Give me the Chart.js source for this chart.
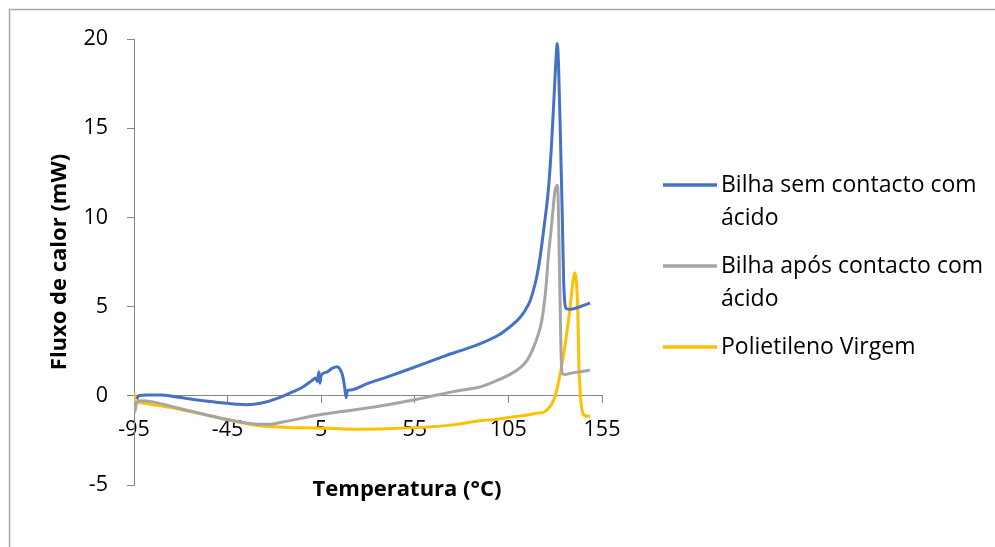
<!DOCTYPE html>
<html>
<head>
<meta charset="utf-8">
<script src="https://cdn.jsdelivr.net/npm/chart.js@4.4.0/dist/chart.umd.min.js"></script>
<style>
    body { margin: 0; background: #fff; }
    #wrap { width: 995px; height: 547px; }
</style>
</head>
<body>
<div id="wrap"><canvas id="dscChart" width="995" height="547"></canvas></div>
<script>
// Temperature ticks and series (°C, mW)
const xTicks = [-95, -45, 5, 55, 105, 155];

const semAcidoTemp = [-93.6, -92.5, -88, -80, -70, -60, -50, -40, -35, -30, -25, -20, -15, -10, -5, 0, 2, 3, 3.8, 4.3, 5, 8, 11, 13.5, 15, 16.5, 17.5, 18.3, 19, 20.5, 30, 40, 50, 60, 70, 80, 90, 100, 105, 108.5, 111.2, 114, 116.5, 118.3, 120.2, 121.9, 124.2, 126.3, 128, 129.5, 130.5, 131.1, 131.8, 132.8, 133.8, 134.5, 135.2, 136.1, 138, 142, 146, 148.6];
const semAcidoFlux = [-0.2, 0.0, 0.05, 0.04, -0.1, -0.25, -0.37, -0.47, -0.5, -0.46, -0.36, -0.2, 0.0, 0.23, 0.48, 0.85, 1.0, 0.8, 1.35, 0.7, 1.15, 1.33, 1.55, 1.63, 1.5, 1.1, 0.5, -0.1, 0.3, 0.33, 0.7, 1.05, 1.42, 1.8, 2.2, 2.55, 2.92, 3.42, 3.8, 4.1, 4.39, 4.8, 5.3, 5.9, 6.7, 7.75, 9.6, 11.5, 14.0, 17.0, 19.0, 19.75, 18.5, 14.5, 10.0, 6.5, 5.15, 4.87, 4.85, 4.95, 5.1, 5.2];

const aposAcidoTemp = [-95, -94.6, -94.2, -93.5, -92, -85, -75, -65, -55, -45, -35, -28, -22, -18, -13, -5, 5, 15, 25, 35, 45, 55, 65, 75, 85, 90, 98, 105.9, 111, 114.8, 118, 121, 122.8, 124.9, 126.3, 128.1, 129.9, 130.7, 131.1, 131.6, 132.3, 133.1, 133.6, 135.2, 140, 145, 148.6];
const aposAcidoFlux = [-0.3, -0.9, -0.7, -0.35, -0.28, -0.34, -0.6, -0.85, -1.1, -1.33, -1.52, -1.6, -1.6, -1.52, -1.42, -1.25, -1.05, -0.9, -0.76, -0.6, -0.42, -0.22, 0.0, 0.22, 0.4, 0.5, 0.82, 1.2, 1.55, 1.96, 2.6, 3.46, 4.2, 5.9, 7.75, 9.6, 11.5, 11.75, 11.8, 11.0, 7.0, 2.5, 1.25, 1.2, 1.3, 1.38, 1.44];

const virgemTemp = [-95, -94.6, -93.6, -85, -75.8, -67, -58, -49, -40.2, -33, -27.7, -20, -13.5, 4.3, 22.1, 40, 57.8, 75.6, 89.8, 100, 107.6, 115, 120, 123.6, 126.5, 129, 130.8, 132.6, 134.5, 136.1, 137.3, 138.3, 139.6, 140.6, 141.4, 142.1, 142.7, 143.4, 144.1, 145.9, 148.6];
const virgemFlux = [0.15, -0.4, -0.37, -0.5, -0.65, -0.84, -1.03, -1.25, -1.46, -1.6, -1.68, -1.74, -1.77, -1.81, -1.87, -1.85, -1.77, -1.63, -1.4, -1.3, -1.18, -1.08, -0.98, -0.93, -0.7, -0.28, 0.3, 1.2, 2.3, 3.46, 4.4, 5.3, 6.5, 6.9, 6.3, 4.6, 1.6, 0.2, -0.65, -1.12, -1.15];

const seriesNames = ['Bilha sem contacto com ácido', 'Bilha após contacto com ácido', 'Polietileno Virgem'];
const seriesColors = ['#4472C4', '#A5A5A5', '#FFC000'];

const FONT = '"Open Sans", Lato, sans-serif';
const axisColor = '#868686';

function toPoints(xs, ys) {
    return xs.map((x, i) => ({ x: x, y: ys[i] }));
}

// Border round the whole chart, x title, and a wrapped legend on the right
const extrasPlugin = {
    id: 'extras',
    beforeDraw(chart) {
        const ctx = chart.ctx;
        ctx.save();
        ctx.fillStyle = '#fff';
        ctx.fillRect(0, 0, chart.width, chart.height);
        ctx.strokeStyle = '#a6a6a6';
        ctx.lineWidth = 1.5;
        ctx.strokeRect(9.5, 9.5, chart.width + 20, chart.height + 20);
        ctx.restore();
    },
    afterDraw(chart) {
        const ctx = chart.ctx;
        ctx.save();
        ctx.fillStyle = '#000';
        ctx.font = 'bold 22px ' + FONT;
        ctx.textAlign = 'center';
        ctx.textBaseline = 'middle';
        ctx.fillText('Temperatura (°C)', 407, 490);

        ctx.font = '23px ' + FONT;
        ctx.textAlign = 'left';
        let y = 185;
        chart.data.datasets.forEach(ds => {
            const words = ds.label.split(' ');
            const lines = [];
            let cur = '';
            words.forEach(w => {
                const test = cur ? cur + ' ' + w : w;
                if (ctx.measureText(test).width > 285 && cur) {
                    lines.push(cur);
                    cur = w;
                } else {
                    cur = test;
                }
            });
            lines.push(cur);

            ctx.strokeStyle = ds.borderColor;
            ctx.lineWidth = 3.5;
            ctx.beginPath();
            ctx.moveTo(663, y);
            ctx.lineTo(717, y);
            ctx.stroke();

            lines.forEach((line, i) => {
                ctx.fillText(line, 721, y + i * 33);
            });
            y += lines.length * 33 + 15;
        });
        ctx.restore();
    }
};

const datasets = [
    toPoints(semAcidoTemp, semAcidoFlux),
    toPoints(aposAcidoTemp, aposAcidoFlux),
    toPoints(virgemTemp, virgemFlux)
].map((pts, i) => ({
    label: seriesNames[i],
    data: pts,
    borderColor: seriesColors[i],
    backgroundColor: seriesColors[i],
    borderWidth: 3,
    showLine: true,
    pointRadius: 0,
    cubicInterpolationMode: 'monotone',
    fill: false
}));

new Chart(document.getElementById('dscChart').getContext('2d'), {
    type: 'scatter',
    data: { datasets: datasets },
    plugins: [extrasPlugin],
    options: {
        responsive: false,
        animation: false,
        layout: {
            padding: { left: 43, right: 393, top: 39, bottom: 62 }
        },
        plugins: {
            legend: { display: false },
            tooltip: { enabled: false }
        },
        scales: {
            x: {
                type: 'linear',
                position: { y: 0 },
                min: -95,
                max: 155,
                afterBuildTicks: function(scale) {
                    scale.ticks = xTicks.map(v => ({ value: v }));
                },
                grid: {
                    drawOnChartArea: false,
                    drawTicks: true,
                    tickLength: 7,
                    color: axisColor
                },
                border: { display: true, color: axisColor, width: 1 },
                ticks: {
                    color: '#000',
                    font: { family: FONT, size: 21.5 },
                    padding: 14,
                    maxRotation: 0,
                    autoSkip: false
                }
            },
            y: {
                min: -5,
                max: 20,
                afterFit: function(scale) {
                    scale.width = 91;
                },
                grid: {
                    drawOnChartArea: false,
                    drawTicks: true,
                    tickLength: 7,
                    color: axisColor
                },
                border: { display: true, color: axisColor, width: 1 },
                ticks: {
                    stepSize: 5,
                    color: '#000',
                    font: { family: FONT, size: 21.5 },
                    padding: 19
                },
                title: {
                    display: true,
                    text: 'Fluxo de calor (mW)',
                    color: '#000',
                    font: { family: FONT, size: 22, weight: 'bold' }
                }
            }
        }
    }
});
</script>
</body>
</html>
